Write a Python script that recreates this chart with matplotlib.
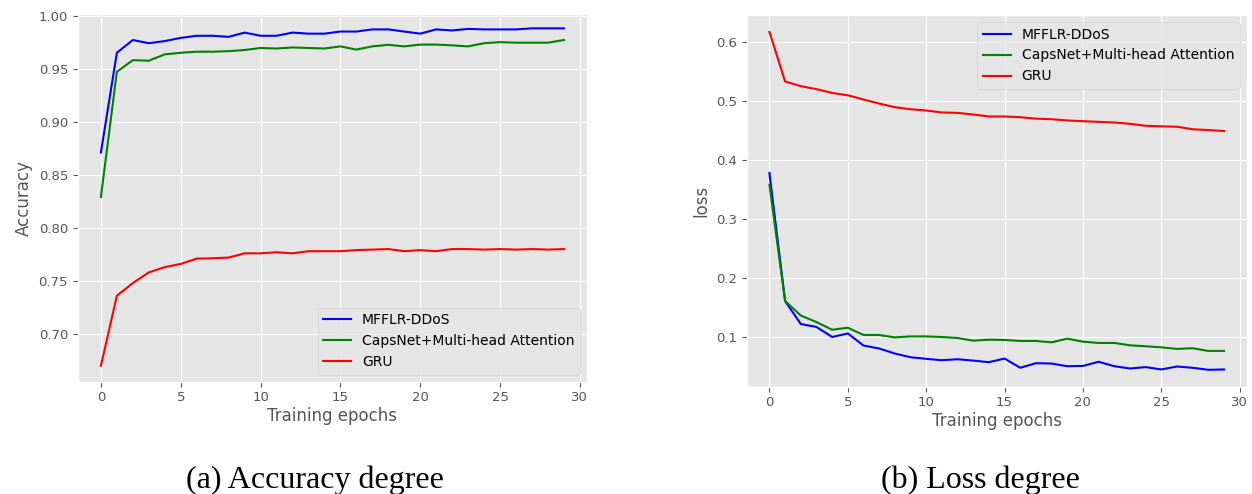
import numpy as np
import matplotlib
matplotlib.use("Agg")
from matplotlib import pyplot as plt

epochs = np.arange(30)

# accuracy per epoch
acc_mfflr = [0.871, 0.965, 0.977, 0.974, 0.976, 0.979, 0.981, 0.981, 0.980, 0.984,
             0.981, 0.981, 0.984, 0.983, 0.983, 0.985, 0.985, 0.987, 0.987, 0.985,
             0.983, 0.987, 0.986, 0.9875, 0.987, 0.987, 0.987, 0.988, 0.988, 0.988]
acc_capsnet = [0.829, 0.947, 0.958, 0.9575, 0.9635, 0.965, 0.966, 0.966, 0.9665, 0.9676,
               0.9695, 0.969, 0.970, 0.9695, 0.969, 0.971, 0.968, 0.971, 0.9725, 0.971,
               0.9727, 0.9727, 0.972, 0.971, 0.974, 0.975, 0.9745, 0.9745, 0.9745, 0.977]
acc_gru = [0.670, 0.736, 0.748, 0.758, 0.763, 0.766, 0.771, 0.7713, 0.772, 0.776,
           0.776, 0.777, 0.776, 0.778, 0.778, 0.778, 0.779, 0.7795, 0.780, 0.778,
           0.779, 0.778, 0.780, 0.780, 0.7795, 0.780, 0.7795, 0.780, 0.7795, 0.780]

# loss per epoch
loss_mfflr = [0.378, 0.161, 0.122, 0.117, 0.100, 0.106, 0.0855, 0.0805, 0.072, 0.0657,
              0.063, 0.0606, 0.0623, 0.060, 0.0573, 0.0635, 0.0478, 0.0556, 0.055, 0.0505,
              0.051, 0.058, 0.0505, 0.0466, 0.049, 0.045, 0.050, 0.0478, 0.0444, 0.045]
loss_capsnet = [0.358, 0.161, 0.1364, 0.1253, 0.1123, 0.1157, 0.1034, 0.1034, 0.0993, 0.101,
                0.101, 0.100, 0.0983, 0.0938, 0.0955, 0.095, 0.0933, 0.0933, 0.091, 0.0972,
                0.0921, 0.0899, 0.0899, 0.0859, 0.0843, 0.0825, 0.0798, 0.081, 0.0764, 0.0764]
loss_gru = [0.617, 0.533, 0.525, 0.520, 0.5135, 0.5096, 0.5024, 0.4956, 0.4894, 0.486,
            0.4838, 0.4805, 0.4798, 0.477, 0.4737, 0.4737, 0.4725, 0.470, 0.469, 0.467,
            0.4657, 0.4646, 0.4635, 0.4613, 0.4579, 0.457, 0.4563, 0.452, 0.4507, 0.449]

labels = ["MFFLR-DDoS", "CapsNet+Multi-head Attention", "GRU"]
colors = ["blue", "green", "red"]

plt.style.use("ggplot")
fig = plt.figure(figsize=(12.52, 4.94), dpi=100)
ax1 = fig.add_axes([0.0621, 0.2273, 0.4068, 0.7443])
ax2 = fig.add_axes([0.5964, 0.2172, 0.3994, 0.7524])

for ax, series in ((ax1, (acc_mfflr, acc_capsnet, acc_gru)),
                   (ax2, (loss_mfflr, loss_capsnet, loss_gru))):
    for vals, lab, col in zip(series, labels, colors):
        ax.plot(epochs, vals, color=col, label=lab, linewidth=1.5)
    ax.set_xlabel("Training epochs", fontsize=12, color="#555555", labelpad=2)
    ax.tick_params(labelsize=9.5, colors="#555555")
    ax.set_xticks([0, 5, 10, 15, 20, 25, 30])

ax1.set_ylim(0.655, 1.0015)
ax1.set_ylabel("Accuracy", fontsize=12, color="#555555")
ax1.legend(loc="lower right", fontsize=10)

ax2.set_ylabel("loss", fontsize=12, color="#555555")
ax2.legend(loc="upper right", fontsize=10)

fig.text(0.2516, 0.012, "(a) Accuracy degree", family="Liberation Serif", fontsize=23,
         ha="center", va="baseline")
fig.text(0.783, 0.012, "(b) Loss degree", family="Liberation Serif", fontsize=23,
         ha="center", va="baseline")

fig.savefig("out.png", dpi=100)
